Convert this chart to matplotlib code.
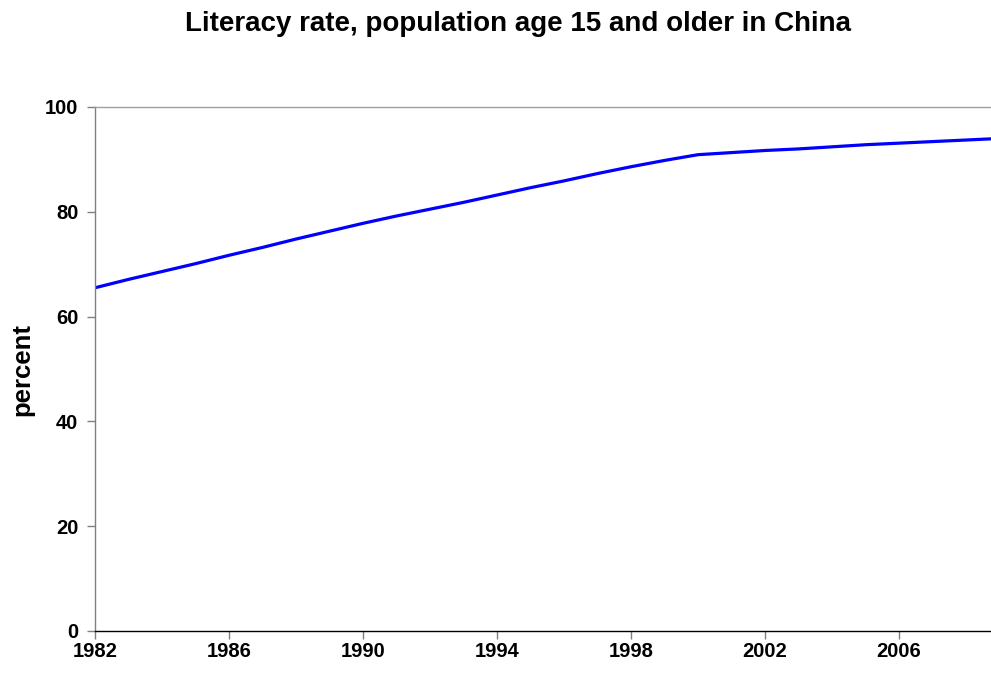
import numpy as np
import matplotlib.pyplot as plt

plt.rcParams['font.family'] = ['Liberation Sans', 'DejaVu Sans']
plt.rcParams['font.weight'] = 'bold'

# literacy rate, age 15+, China
years = [1982, 1983, 1984, 1985, 1986, 1987, 1988, 1989, 1990, 1991,
         1992, 1993, 1994, 1995, 1996, 1997, 1998, 1999, 2000, 2001,
         2002, 2003, 2004, 2005, 2006, 2007, 2008, 2009]
rate = [65.5, 67.1, 68.6, 70.1, 71.7, 73.2, 74.8, 76.3, 77.8, 79.2,
        80.5, 81.8, 83.2, 84.6, 85.9, 87.3, 88.6, 89.8, 90.9, 91.3,
        91.7, 92.0, 92.4, 92.8, 93.1, 93.4, 93.7, 94.0]
xticks = [1982, 1986, 1990, 1994, 1998, 2002, 2006]
yticks = [0, 20, 40, 60, 80, 100]

fig = plt.figure(figsize=(9.91, 6.77), dpi=100)
ax = fig.add_axes([95/991, 1-631/677, (999.5-95)/991, (631-107)/677])

ax.plot(years, rate, color='#0000FF', lw=2.3, solid_joinstyle='miter')

ax.set_xlim(1982, 2009)
ax.set_ylim(0, 100)
ax.set_xticks(xticks)
ax.set_yticks(yticks)
ax.tick_params(axis='both', labelsize=14.5, direction='out', length=6,
               width=1, color='#808080', pad=6)
ax.tick_params(axis='x', pad=2)
for lab in ax.get_xticklabels() + ax.get_yticklabels():
    lab.set_fontweight('bold')

ax.spines['left'].set_color('#808080')
ax.spines['top'].set_color('#a0a0a0')
ax.spines['bottom'].set_color('black')
ax.spines['right'].set_visible(False)
for s in ax.spines.values():
    s.set_linewidth(1)

ax.set_ylabel('percent', fontsize=18.5, fontweight='bold', labelpad=8)
fig.text(518/991, 1-24/677, 'Literacy rate, population age 15 and older in China',
         ha='center', va='center', fontsize=20, fontweight='bold')

fig.savefig('out.png', dpi=100)
